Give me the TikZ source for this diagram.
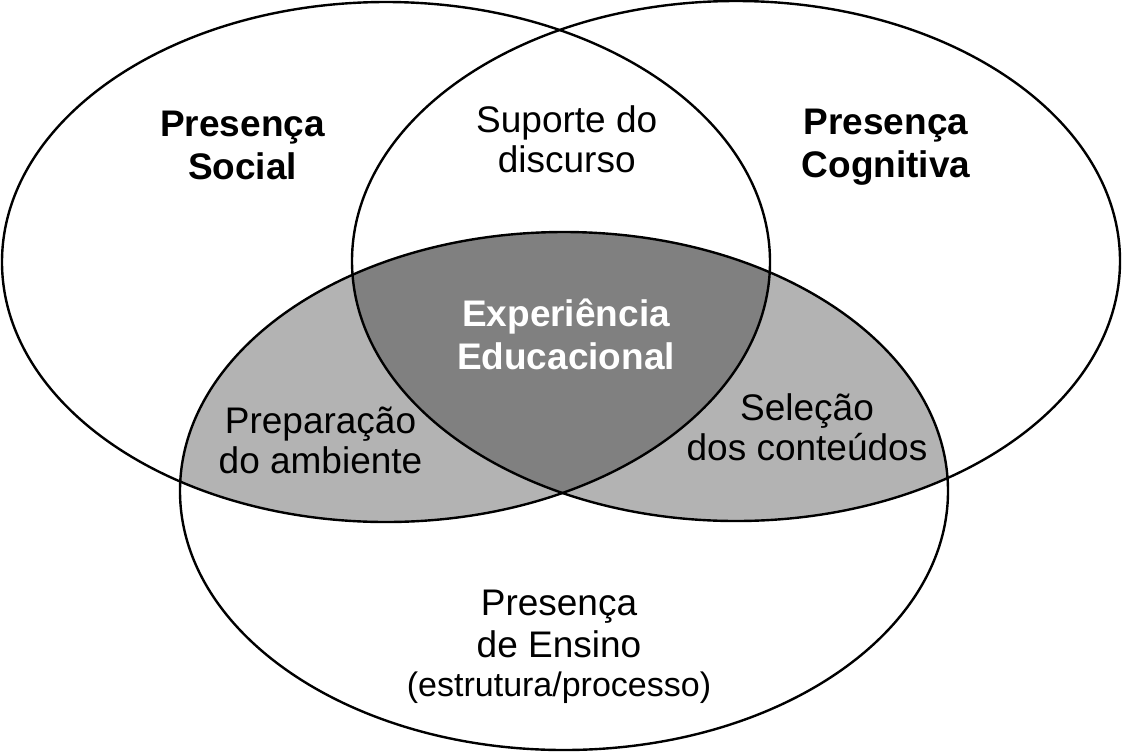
\documentclass[tikz,border=0pt]{standalone}
\usepackage{fontspec}
\setmainfont{Liberation Sans}
\definecolor{lightgr}{HTML}{B3B3B3}
\definecolor{darkgr}{HTML}{808080}
\tikzset{
  ring/.style={draw=black, line width=2.4pt},
  boldlbl/.style={align=center, font=\fontsize{37}{43}\selectfont\bfseries, inner sep=0pt},
  reglbl/.style={align=center, font=\fontsize{37}{40}\selectfont, inner sep=0pt},
}
\begin{document}
\begin{tikzpicture}[x=1pt,y=-1pt]
\useasboundingbox (0,0) rectangle (1123,753);
\def\Lpath{(386,262) ellipse [x radius=384, y radius=260]}
\def\Rpath{(736,261) ellipse [x radius=384, y radius=260]}
\def\Bpath{(564,491) ellipse [x radius=384, y radius=259]}
% light grey: left & bottom, right & bottom
\begin{scope}
  \clip \Lpath;
  \fill[lightgr] \Bpath;
\end{scope}
\begin{scope}
  \clip \Rpath;
  \fill[lightgr] \Bpath;
\end{scope}
% dark grey: all three
\begin{scope}
  \clip \Lpath;
  \clip \Rpath;
  \fill[darkgr] \Bpath;
\end{scope}
\draw[ring] \Lpath;
\draw[ring] \Rpath;
\draw[ring] \Bpath;
% labels
\node[boldlbl] (social) at (242.5,145) {Presença\\Social};
\node[boldlbl] (cogn) at (886,147) {Presença\\Cognitiva};
\node[reglbl] (sup) at (566.7,139) {Suporte do\\discurso};
\node[boldlbl, text=white] (exp) at (566,334) {Experiência\\Educacional};
\node[reglbl] (prep) at (320.5,440) {Preparação\\do ambiente};
\node[reglbl] (sel) at (807,427) {Seleção\\dos conteúdos};
\node[align=center, inner sep=0pt, font=\fontsize{37}{42}\selectfont] (ens) at (559,647)
  {Presença\\de Ensino\\[-3pt]{\fontsize{34}{40}\selectfont(estrutura/processo)}};
\end{tikzpicture}
\end{document}
